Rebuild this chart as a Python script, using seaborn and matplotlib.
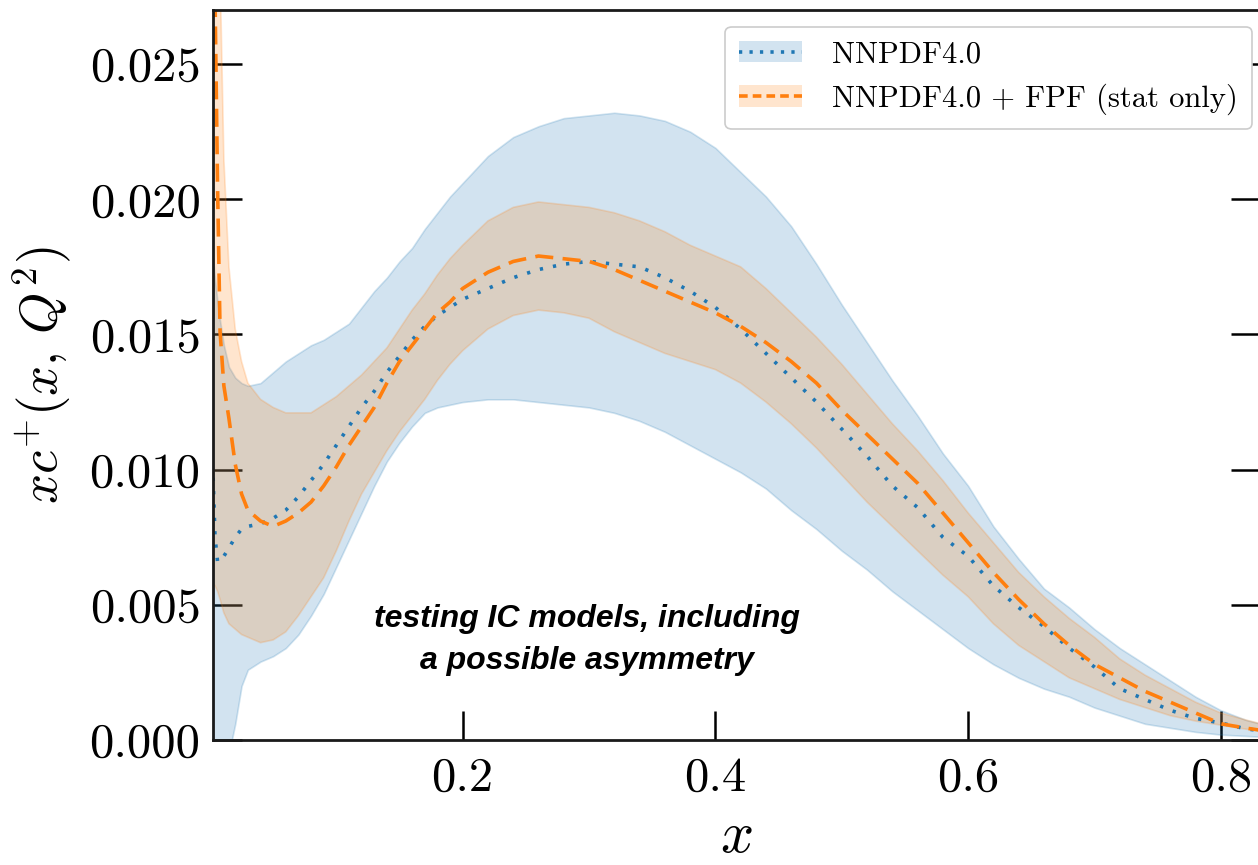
import numpy as np
import pandas as pd
import matplotlib
matplotlib.use("Agg")
import matplotlib.pyplot as plt
import seaborn as sns
from matplotlib.patches import Patch
from matplotlib.lines import Line2D

# momentum fraction grid
x = [0.0025, 0.004, 0.006, 0.008, 0.011, 0.015, 0.02, 0.025, 0.03, 0.04,
     0.05, 0.06, 0.07, 0.08, 0.09, 0.10, 0.11, 0.12, 0.13, 0.14,
     0.15, 0.16, 0.17, 0.18, 0.19, 0.20, 0.22, 0.24, 0.26, 0.28,
     0.30, 0.32, 0.34, 0.36, 0.38, 0.40, 0.42, 0.44, 0.46, 0.48,
     0.50, 0.52, 0.54, 0.56, 0.58, 0.60, 0.62, 0.64, 0.66, 0.68,
     0.70, 0.72, 0.74, 0.76, 0.78, 0.80, 0.82, 0.84]

# NNPDF4.0: central value and 68% band
nnpdf_central = [0.0097, 0.0075, 0.0066, 0.0066, 0.0068, 0.0071, 0.0075, 0.0078, 0.0079, 0.0080,
                 0.0082, 0.0085, 0.0090, 0.0096, 0.0102, 0.0109, 0.0116, 0.0123, 0.0129, 0.0136,
                 0.0142, 0.0148, 0.0153, 0.0157, 0.0160, 0.0163, 0.0167, 0.0171, 0.0174, 0.0176,
                 0.0177, 0.0176, 0.0175, 0.0171, 0.0166, 0.0160, 0.0152, 0.0143, 0.0134, 0.0125,
                 0.0115, 0.0105, 0.0094, 0.0086, 0.0075, 0.0068, 0.0057, 0.0049, 0.0042, 0.0034,
                 0.0027, 0.0019, 0.0015, 0.0011, 0.0008, 0.00063, 0.00041, 0.0003]
nnpdf_upper = [0.0178, 0.0170, 0.0162, 0.0155, 0.0146, 0.0138, 0.0134, 0.0132, 0.0131, 0.0132,
               0.0136, 0.0140, 0.0143, 0.0146, 0.0148, 0.0151, 0.0154, 0.0160, 0.0166, 0.0171,
               0.0177, 0.0182, 0.0189, 0.0195, 0.0201, 0.0206, 0.0216, 0.0223, 0.0227, 0.0230,
               0.0231, 0.0232, 0.0231, 0.0229, 0.0225, 0.0219, 0.0210, 0.0201, 0.0190, 0.0176,
               0.0161, 0.0147, 0.0133, 0.0120, 0.0106, 0.0094, 0.0079, 0.0067, 0.0056, 0.0049,
               0.0041, 0.0034, 0.0028, 0.0022, 0.0016, 0.0011, 0.00074, 0.0005]
nnpdf_lower = [-0.0040, -0.0030, -0.0025, -0.0020, -0.0012, -0.0005, 0.0006, 0.0020, 0.0026, 0.0029,
               0.0031, 0.0034, 0.0039, 0.0046, 0.0054, 0.0064, 0.0074, 0.0084, 0.0094, 0.0103,
               0.0110, 0.0116, 0.0121, 0.0123, 0.0124, 0.0125, 0.0126, 0.0126, 0.0125, 0.0124,
               0.0123, 0.0121, 0.0118, 0.0114, 0.0109, 0.0104, 0.0099, 0.0093, 0.0085, 0.0078,
               0.0070, 0.0063, 0.0055, 0.0048, 0.0041, 0.0034, 0.0028, 0.0023, 0.0019, 0.0016,
               0.0012, 0.0009, 0.0006, 0.00045, 0.0003, 0.0002, 0.00015, 0.0001]

# NNPDF4.0 + FPF (stat only): central value and 68% band
fpf_central = [0.0360, 0.0275, 0.0205, 0.0151, 0.0131, 0.0119, 0.0102, 0.0091, 0.0085, 0.0081,
               0.0079, 0.0081, 0.0084, 0.0088, 0.0094, 0.0101, 0.0109, 0.0116, 0.0123, 0.0132,
               0.0140, 0.0146, 0.0152, 0.0158, 0.0162, 0.0167, 0.0173, 0.0177, 0.0179, 0.0178,
               0.0177, 0.0174, 0.0170, 0.0166, 0.0162, 0.0158, 0.0153, 0.0147, 0.0140, 0.0132,
               0.0122, 0.0113, 0.0104, 0.0095, 0.0084, 0.0073, 0.0062, 0.0052, 0.0043, 0.0035,
               0.0028, 0.0023, 0.0018, 0.0014, 0.0010, 0.0006, 0.00044, 0.0003]
fpf_upper = [0.0450, 0.0380, 0.0320, 0.0285, 0.0215, 0.0175, 0.0152, 0.0140, 0.0132, 0.0126,
             0.0123, 0.0121, 0.0121, 0.0121, 0.0124, 0.0127, 0.0131, 0.0135, 0.0140, 0.0145,
             0.0152, 0.0159, 0.0165, 0.0172, 0.0178, 0.0183, 0.0192, 0.0197, 0.0199, 0.0198,
             0.0197, 0.0195, 0.0192, 0.0188, 0.0183, 0.0179, 0.0175, 0.0167, 0.0158, 0.0149,
             0.0139, 0.0128, 0.0117, 0.0107, 0.0096, 0.0084, 0.0073, 0.0062, 0.0053, 0.0045,
             0.0038, 0.0030, 0.0024, 0.0019, 0.0014, 0.0010, 0.00074, 0.0005]
fpf_lower = [0.0058, 0.0057, 0.0055, 0.0052, 0.0047, 0.0043, 0.0041, 0.0039, 0.0038, 0.0036,
             0.0037, 0.0040, 0.0046, 0.0053, 0.0060, 0.0070, 0.0081, 0.0091, 0.0099, 0.0107,
             0.0114, 0.0120, 0.0126, 0.0133, 0.0139, 0.0144, 0.0152, 0.0157, 0.0159, 0.0158,
             0.0156, 0.0151, 0.0147, 0.0143, 0.0140, 0.0137, 0.0132, 0.0125, 0.0117, 0.0108,
             0.0098, 0.0088, 0.0079, 0.0070, 0.0061, 0.0053, 0.0043, 0.0035, 0.0029, 0.0023,
             0.0019, 0.0015, 0.0012, 0.0009, 0.0007, 0.00055, 0.0004, 0.0003]

series_labels = ["NNPDF4.0", "NNPDF4.0 + FPF (stat only)"]
xtick_values = [0.2, 0.4, 0.6, 0.8]
ytick_values = [0.000, 0.005, 0.010, 0.015, 0.020, 0.025]
annotation = "testing IC models, including\na possible asymmetry"

sns.set_style("ticks")
plt.rcParams.update({
    "font.family": "serif",
    "font.serif": ["cmr10"],
    "mathtext.fontset": "cm",
    "axes.formatter.use_mathtext": True,
    "axes.unicode_minus": False,
    "text.color": "black",
    "axes.labelcolor": "black",
    "xtick.color": "black",
    "ytick.color": "black",
    "axes.edgecolor": "black",
})

blue = "#1f77b4"
orange = "#ff7f0e"

df = pd.DataFrame({
    "x": x,
    "nnpdf": nnpdf_central, "nnpdf_hi": nnpdf_upper, "nnpdf_lo": nnpdf_lower,
    "fpf": fpf_central, "fpf_hi": fpf_upper, "fpf_lo": fpf_lower,
})

fig = plt.figure(figsize=(12.58, 8.65), dpi=100)
ax = fig.add_axes([213 / 1258, 125 / 865, 1047 / 1258, 730 / 865])

ax.fill_between(df["x"], df["nnpdf_lo"], df["nnpdf_hi"], color=blue, alpha=0.2, lw=1.2)
ax.fill_between(df["x"], df["fpf_lo"], df["fpf_hi"], color=orange, alpha=0.2, lw=1.2)

sns.lineplot(data=df, x="x", y="nnpdf", ax=ax, color=blue, lw=2.6, sort=False)
ax.lines[-1].set_dashes((0.9, 2.8))
sns.lineplot(data=df, x="x", y="fpf", ax=ax, color=orange, lw=2.6, sort=False)
ax.lines[-1].set_dashes((5.0, 2.6))

ax.set_xlim(0.0024, 0.831)
ax.set_ylim(0.0, 0.027)
ax.set_xticks(xtick_values)
ax.set_xticklabels([f"{v:.1f}" for v in xtick_values])
ax.set_yticks(ytick_values)
ax.set_yticklabels([f"{v:.3f}" for v in ytick_values])

ax.tick_params(axis="both", which="major", direction="in", length=21, width=1.8,
               labelsize=35, color="black", labelcolor="black")
ax.tick_params(axis="y", right=True, pad=9)
ax.tick_params(axis="x", top=False, pad=12)
for sp in ax.spines.values():
    sp.set_linewidth(2.0)
    sp.set_color("#1a1a1a")

ax.set_xlabel(r"$x$", fontsize=42, labelpad=8, color="black")
ax.set_ylabel(r"$xc^{+}(x,\, Q^2)$", fontsize=38, labelpad=12, color="black")

ax.text(0.298, 0.0037, annotation, ha="center", va="center", fontsize=23,
        family="Liberation Sans", weight="bold", style="italic",
        linespacing=1.55, color="black")

handles = [
    (Patch(facecolor=blue, alpha=0.2, edgecolor="none"),
     Line2D([], [], color=blue, lw=2.6, dashes=(0.9, 2.0))),
    (Patch(facecolor=orange, alpha=0.2, edgecolor="none"),
     Line2D([], [], color=orange, lw=2.6, dashes=(2.4, 1.4))),
]
leg = ax.legend(handles, series_labels, loc="upper right",
                bbox_to_anchor=(0.9924, 0.9767), borderaxespad=0.0,
                fontsize=22, handlelength=2.05, handletextpad=1.0,
                labelspacing=0.5, frameon=True, fancybox=True,
                edgecolor="#cccccc", framealpha=1.0, borderpad=0.45)
leg.get_frame().set_linewidth(1.2)
for t in leg.get_texts():
    t.set_color("black")

fig.savefig("out.png", dpi=100)
